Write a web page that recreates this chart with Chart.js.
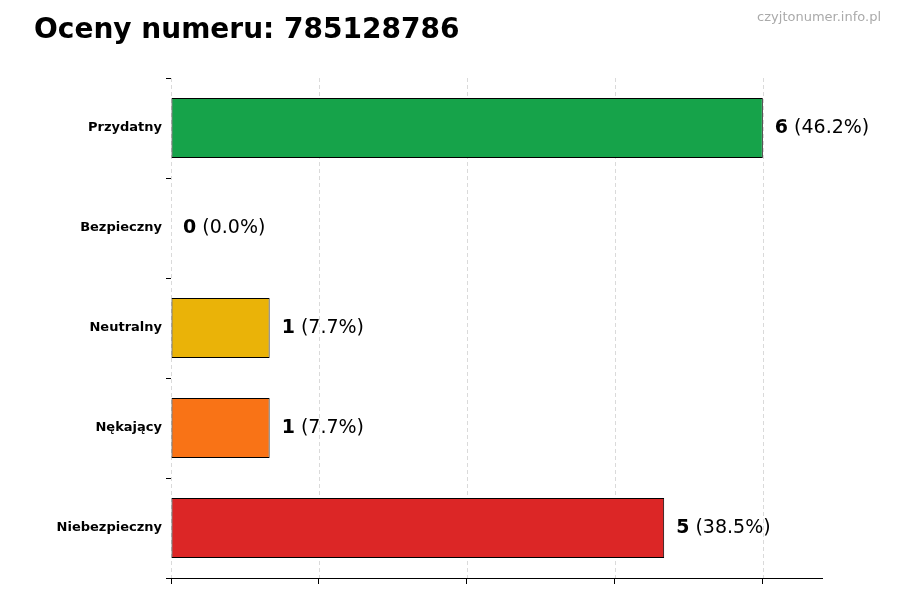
<!DOCTYPE html><html><head><meta charset="utf-8">
<script src="https://cdn.jsdelivr.net/npm/chart.js@4"></script>
<style>html,body{margin:0;background:#fff}#w{width:900px;height:600px}</style></head><body>
<div id="w"><canvas id="c"></canvas></div>
<script>
const categories=["Przydatny","Bezpieczny","Neutralny","Nękający","Niebezpieczny"];
const counts=[6,0,1,1,5];
const percents=["46.2%","0.0%","7.7%","7.7%","38.5%"];
const colors=["#16a34a","#16a34a","#eab308","#f97316","#dc2626"];
const xTicks=[0,1.5,3,4.5,6];
const F="DejaVu Sans";
const deco={id:'deco',
beforeDatasetsDraw(ch){const c=ch.ctx,x=ch.scales.x,a=ch.chartArea;c.save();c.strokeStyle='#d0d0d0';c.lineWidth=0.8;c.setLineDash([4,3]);
xTicks.forEach(v=>{const p=Math.round(x.getPixelForValue(v))+0.5;c.beginPath();c.moveTo(p,a.top);c.lineTo(p,a.bottom);c.stroke();});c.restore();},
afterDraw(ch){const c=ch.ctx,m=ch.getDatasetMeta(0);c.save();
c.fillStyle='#000';c.font='bold 28px '+F;c.textBaseline='middle';c.fillText('Oceny numeru: 785128786',34,31);
c.fillStyle='#aaa';c.font='13px '+F;c.textAlign='right';c.fillText('czyjtonumer.info.pl',881,18);c.textAlign='left';
m.data.forEach((b,i)=>{let x=b.x+12;c.fillStyle='#000';c.font='bold 19px '+F;const n=String(counts[i]);c.fillText(n,x,b.y);x+=c.measureText(n).width;c.font='19px '+F;c.fillText(' ('+percents[i]+')',x,b.y);});
c.restore();}};
new Chart(document.getElementById('c'),{type:'bar',
data:{labels:categories,datasets:[{data:counts,backgroundColor:colors,borderColor:'#000',borderWidth:1,borderSkipped:false,barPercentage:0.6,categoryPercentage:1}]},
options:{indexAxis:'y',responsive:true,maintainAspectRatio:false,animation:false,
layout:{padding:{top:78,right:78,left:0,bottom:0}},
plugins:{legend:{display:false},tooltip:{enabled:false}},
scales:{
x:{min:0,max:6.6,afterBuildTicks(s){s.ticks=xTicks.map(v=>({value:v}));},afterFit(s){s.height=22;},
ticks:{display:false},grid:{drawOnChartArea:false,drawTicks:true,tickLength:6,tickColor:'#000'},border:{color:'#000',width:1}},
y:{afterFit(s){s.width=171;},ticks:{color:'#000',font:{family:F,size:13,weight:'bold'},padding:4},
grid:{drawOnChartArea:false,drawTicks:true,tickLength:5,tickColor:'#000'},border:{display:false}}}},
plugins:[deco]});
</script></body></html>
